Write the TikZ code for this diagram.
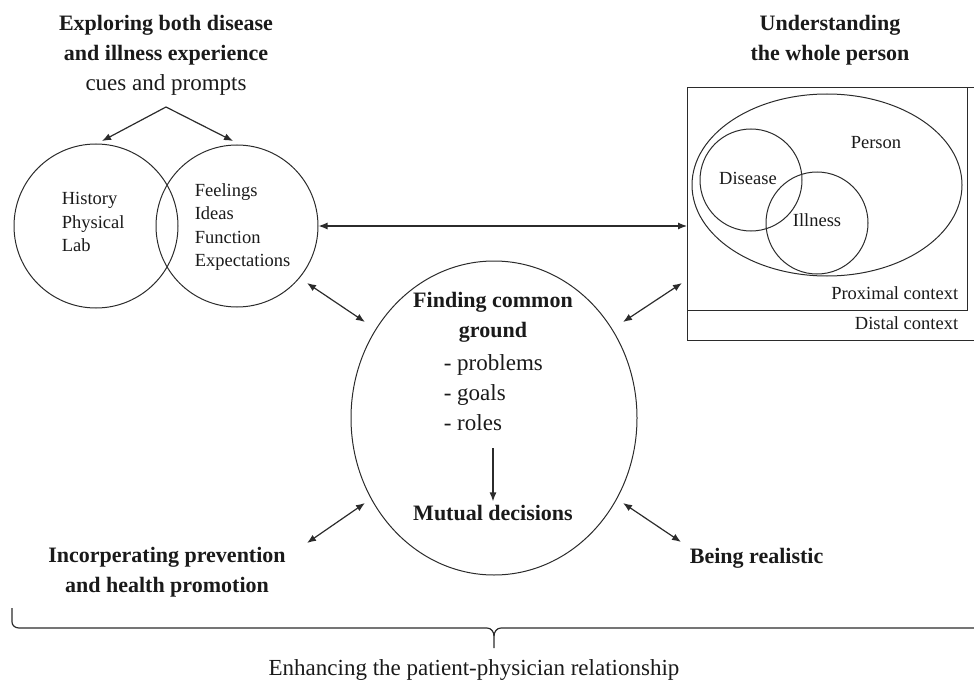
\documentclass[tikz,border=0pt]{standalone}
\usepackage{fontspec}
\setmainfont{Liberation Serif}
\usepackage{tikz}
\usetikzlibrary{positioning, arrows.meta, shapes.geometric}
\definecolor{inkline}{HTML}{2B2B2B}
\definecolor{inktext}{HTML}{1A1A1A}
\newcommand{\headfont}{\fontsize{22}{30}\selectfont\bfseries}
\newcommand{\bodyfont}{\fontsize{23}{30}\selectfont}
\newcommand{\cuefont}{\fontsize{18.5}{23.5}\selectfont}

\begin{document}
\begin{tikzpicture}[x=1pt, y=-1pt, line width=1pt, color=inkline, text=inktext,
  ring/.style={draw, circle, inner sep=0pt, minimum size=164pt},
  twoway/.style={line width=1.2pt, {Latex[length=9pt,width=7pt]}-{Latex[length=9pt,width=7pt]}},
  oneway/.style={line width=1.2pt, -{Latex[length=9pt,width=7pt]}}]
\useasboundingbox (0,0) rectangle (974,682);
% exploring disease and illness
\node[font=\headfont, align=center] (explore) at (166,40.5) {Exploring both disease\\and illness experience};
\node[font=\bodyfont] (cues) at (166,85) {cues and prompts};
\node[ring] (medic) at (96,226) {};
\node[ring, minimum size=162pt] (lived) at (237,226) {};
\node[font=\cuefont, align=left, anchor=west] (medtxt) at (58,222) {History\\Physical\\Lab};
\node[font=\cuefont, align=left, anchor=west] (livtxt) at (191,227) {Feelings\\Ideas\\Function\\Expectations};
\coordinate (fork) at (166,107);
\draw[oneway] (fork) -- (102,141);
\draw[oneway] (fork) -- (233,141);
% whole person
\node[font=\headfont, align=center] (whole) at (830,40.5) {Understanding\\the whole person};
\node[draw, line width=1.3pt, anchor=north west, minimum width=330pt, minimum height=253pt] (distal) at (687,87) {};
\node[draw, line width=1.3pt, anchor=north west, minimum width=280pt, minimum height=223pt] (proximal) at (687,87) {};
\node[draw, ellipse, inner sep=0pt, minimum width=270pt, minimum height=182pt] (person) at (827,185) {};
\node[draw, circle, inner sep=0pt, minimum size=102pt] (disease) at (751,180) {};
\node[draw, circle, inner sep=0pt, minimum size=102pt] (illness) at (817,223) {};
\node[font=\cuefont] at (876,143) {Person};
\node[font=\cuefont] at (748,178) {Disease};
\node[font=\cuefont] at (817,220) {Illness};
\node[font=\cuefont, anchor=east] at (962,293) {Proximal context};
\node[font=\cuefont, anchor=east] at (962,323) {Distal context};
\draw[twoway] (lived.east) -- (lived.east -| proximal.west);
% common ground
\node[draw, ellipse, inner sep=0pt, minimum width=286pt, minimum height=314pt] (common) at (494,418) {};
\node[font=\headfont, align=center] (findhead) at (493,317.5) {Finding common\\ground};
\node[font=\bodyfont, align=left, anchor=west] (findlist) at (440,393) {- problems\\- goals\\- roles};
\node[font=\headfont] (mutual) at (493,513) {Mutual decisions};
\draw[oneway] (493,448) -- (mutual.north);
\coordinate (ula) at (307,283); \coordinate (ulb) at (365,322);
\coordinate (ura) at (623,322); \coordinate (urb) at (682,283);
\coordinate (lla) at (307,543); \coordinate (llb) at (365,503);
\coordinate (lra) at (623,503); \coordinate (lrb) at (681,542);
\draw[twoway] (ula) -- (ulb);
\draw[twoway] (ura) -- (urb);
\draw[twoway] (lla) -- (llb);
\draw[twoway] (lra) -- (lrb);
\node[font=\headfont, align=center] (prevent) at (167,572) {Incorperating prevention\\and health promotion};
\node[font=\headfont, anchor=west] (real) at (686,558) {Being realistic};
% relationship brace
\draw[line width=1.2pt] (12,608) -- (12,622) to[out=-90, in=180] (19,628) -- (487,628) to[out=0, in=90] (494,636) -- (494,648);
\draw[line width=1.2pt] (494,636) to[out=90, in=180] (501,628) -- (990,628);
\node[font=\bodyfont] (enhance) at (474,670) {Enhancing the patient-physician relationship};
\end{tikzpicture}
\end{document}
